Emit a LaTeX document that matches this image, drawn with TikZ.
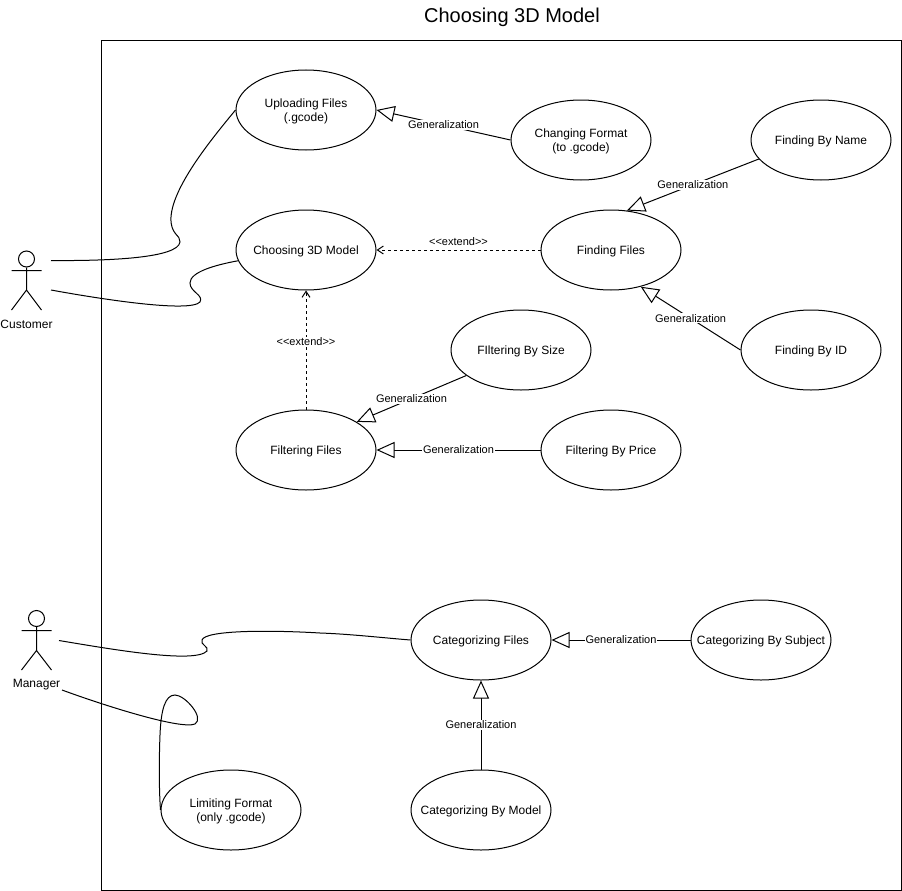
\documentclass[tikz,border=0pt]{standalone}
\usepackage{fontspec}
\setmainfont{Liberation Sans}
\usetikzlibrary{arrows.meta,shapes.geometric}
\newcommand{\uctext}[1]{\makebox[0pt][c]{\raisebox{-5pt}[0pt][0pt]{\begin{tabular}{@{}c@{}}#1\end{tabular}}}}
\tikzset{
  every node/.style={font=\fontsize{12}{14}\selectfont},
  usecase/.style={draw=black,ellipse,minimum width=140pt,minimum height=80pt,inner sep=0pt,line width=1pt},
  link/.style={draw=black,line width=1pt},
  gen/.style={link,-{Triangle[length=18pt,width=16pt,fill=white,line width=1pt]}},
  ext/.style={link,dashed,dash pattern=on 3pt off 3pt,-{Straight Barb[length=6pt,width=8pt,line width=1pt]}},
  lab/.style={fill=white,inner sep=1pt,font=\fontsize{11}{13}\selectfont},
  extlab/.style={inner sep=1pt,font=\fontsize{11}{13}\selectfont},
  head/.style={draw=black,circle,minimum size=16pt,inner sep=0pt,line width=1pt},
  actorlab/.style={font=\fontsize{12}{14}\selectfont,inner sep=0pt},
}
\begin{document}
\begin{tikzpicture}[x=1pt,y=-1pt,line width=1pt]
\path[use as bounding box,fill=white] (0,0) rectangle (902,891);
\node[font=\fontsize{20}{24}\selectfont,inner sep=0pt] (title) at (512,17) {Choosing 3D Model};
\node[draw=black,line width=1pt,minimum width=800pt,minimum height=849pt,inner sep=0pt] (frame) at (501,465.5) {};

\node[usecase] (upload) at (306,110) {\uctext{Uploading Files\\(.gcode)}};
\node[usecase] (change) at (581,140) {\uctext{Changing Format\\(to .gcode)}};
\node[usecase] (choose) at (306,250) {\uctext{Choosing 3D Model}};
\node[usecase] (find) at (611,250) {\uctext{Finding Files}};
\node[usecase] (byname) at (821,140) {\uctext{Finding By Name}};
\node[usecase] (byid) at (811,350) {\uctext{Finding By ID}};
\node[usecase] (bysize) at (521,350) {\uctext{FIltering By Size}};
\node[usecase] (filter) at (306,450) {\uctext{Filtering Files}};
\node[usecase] (byprice) at (611,450) {\uctext{Filtering By Price}};
\node[usecase] (categ) at (481,640) {\uctext{Categorizing Files}};
\node[usecase] (bysubject) at (761,640) {\uctext{Categorizing By Subject}};
\node[usecase] (bymodel) at (481,810) {\uctext{Categorizing By Model}};
\node[usecase] (limit) at (231,810) {\uctext{Limiting Format\\(only .gcode)}};

% actors
\node[head] (custhead) at (26.5,259) {};
\draw (custhead.south) -- (26.5,290) (11.5,270.5) -- (41.5,270.5) (11.5,310) -- (26.5,290) -- (41.5,310);
\node[actorlab] (custlab) at (26.5,324) {Customer};
\node[head] (manhead) at (36.5,618.5) {};
\draw (manhead.south) -- (36.5,650.5) (21.5,630.5) -- (51.5,630.5) (21.5,670) -- (36.5,650.5) -- (51.5,670);
\node[actorlab] (manlab) at (36.5,684.5) {Manager};

\coordinate (custA) at (51,260.5);
\coordinate (custB) at (51,290);
\coordinate (manA) at (59,640.5);
\coordinate (manB) at (62,690);

% associations
\draw[link] (custA) .. controls (110,261) and (178,258) .. (180,242)
  .. controls (181,235) and (170,235) .. (171,217)
  .. controls (173,185) and (215,135) .. (upload.west);
\draw[link] (custB) .. controls (100,299) and (190,313) .. (200,302)
  .. controls (204,295) and (190,292) .. (190,283)
  .. controls (190,272) and (215,265) .. (choose.189);
\draw[link] (manA) .. controls (110,649) and (195,664) .. (207,651)
  .. controls (209,646) and (200,645) .. (202,640)
  .. controls (205,630) and (270,630) .. (320,633)
  .. controls (350,634) and (385,638) .. (categ.west);
\draw[link] (manB) .. controls (100,704) and (180,730) .. (195,724)
  .. controls (205,718) and (185,695) .. (175,695)
  .. controls (165,695) and (161,710) .. (160,735)
  .. controls (159,760) and (159,790) .. (limit.west);

% generalizations
\draw[gen] (change.west) -- node[lab] (l1) {Generalization} (upload.east);
\draw[gen] (byname.197) -- node[lab] (l2) {Generalization} (find.68);
\draw[gen] (byid.west) -- node[lab] (l3) {Generalization} (find.-51);
\draw[gen] (bysize.205) -- node[lab] (l4) {Generalization} (filter.29);
\draw[gen] (byprice.west) -- node[lab] (l5) {Generalization} (filter.east);
\draw[gen] (bysubject.west) -- node[lab] (l6) {Generalization} (categ.east);
\draw[gen] (bymodel.north) -- node[lab] (l7) {Generalization} (categ.south);

% extends
\draw[ext] (find.west) -- node[extlab,above=3pt] (e1) {<{}<extend>{}>} (choose.east);
\draw[ext] (filter.north) -- node[extlab,fill=white,pos=0.57] (e2) {<{}<extend>{}>} (choose.south);
\end{tikzpicture}
\end{document}
